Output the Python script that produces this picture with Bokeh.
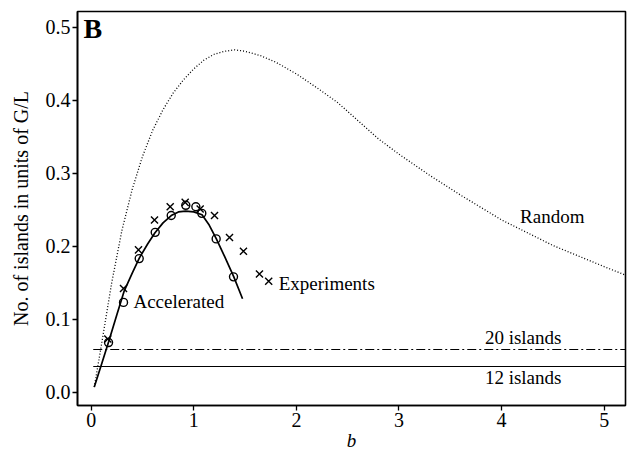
from bokeh.plotting import figure
from bokeh.models import Label, FixedTicker, PrintfTickFormatter, Range1d
from bokeh.embed import file_html
from bokeh.resources import INLINE

# ---- data ----
random_b = [0.03, 0.1, 0.2, 0.3, 0.4, 0.5, 0.6, 0.7, 0.8, 0.9, 1.0, 1.1, 1.2, 1.3,
            1.4, 1.5, 1.65, 1.8, 2.0, 2.2, 2.4, 2.6, 2.8, 3.0, 3.3, 3.6, 4.0, 4.5,
            5.0, 5.25]
random_n = [0.007, 0.065, 0.150, 0.222, 0.278, 0.323, 0.359, 0.387, 0.410, 0.428,
            0.443, 0.455, 0.463, 0.467, 0.469, 0.467, 0.461, 0.452, 0.436, 0.417,
            0.397, 0.372, 0.347, 0.326, 0.297, 0.270, 0.236, 0.201, 0.172, 0.158]

acc_fit_b = [0.03, 0.1, 0.17, 0.25, 0.32, 0.4, 0.47, 0.55, 0.62, 0.7, 0.78, 0.85,
             0.92, 1.0, 1.08, 1.15, 1.22, 1.3, 1.39, 1.475]
acc_fit_n = [0.007, 0.038, 0.069, 0.106, 0.138, 0.163, 0.184, 0.203, 0.218, 0.232,
             0.242, 0.247, 0.248, 0.247, 0.243, 0.229, 0.210, 0.186, 0.158, 0.128]

acc_pts_b = [0.169, 0.315, 0.468, 0.624, 0.78, 0.922, 1.02, 1.078, 1.218, 1.387]
acc_pts_n = [0.068, 0.123, 0.183, 0.219, 0.242, 0.256, 0.254, 0.245, 0.210, 0.158]

exp_b = [0.162, 0.315, 0.461, 0.617, 0.77, 0.916, 1.062, 1.202, 1.348, 1.484, 1.64, 1.73]
exp_n = [0.073, 0.142, 0.195, 0.236, 0.254, 0.260, 0.251, 0.242, 0.212, 0.193, 0.162, 0.152]

island_levels = [0.0585, 0.0352]
island_labels = ["20 islands", "12 islands"]

x_ticks = [0, 1, 2, 3, 4, 5]
y_ticks = [0.0, 0.1, 0.2, 0.3, 0.4, 0.5]

FONT = "Liberation Serif"

p = figure(width=631, height=455, output_backend="svg", toolbar_location=None,
           x_range=Range1d(-0.1335, 5.2076), y_range=Range1d(-0.0182, 0.5215),
           min_border_left=77, min_border_right=6, min_border_top=11,
           min_border_bottom=50)
p.background_fill_color = "white"
p.border_fill_color = "white"
p.grid.visible = False
p.outline_line_color = "black"
p.outline_line_width = 1.6

for ax in (p.xaxis[0], p.yaxis[0]):
    ax.axis_line_width = 1.6
    ax.major_tick_line_width = 1.3
    ax.major_tick_in = 0
    ax.major_tick_out = 5
    ax.minor_tick_line_color = None
    ax.major_label_text_font = FONT
    ax.major_label_text_font_size = "20px"
    ax.major_label_text_color = "black"
    ax.axis_label_text_font = FONT
    ax.axis_label_text_color = "black"

p.xaxis.ticker = FixedTicker(ticks=x_ticks)
p.yaxis.ticker = FixedTicker(ticks=y_ticks)
p.yaxis.formatter = PrintfTickFormatter(format="%.1f")
p.xaxis.major_label_standoff = 2
p.yaxis.major_label_standoff = 2

p.xaxis.axis_label = "b"
p.xaxis.axis_label_text_font_style = "italic"
p.xaxis.axis_label_text_font_size = "19px"
p.xaxis.axis_label_standoff = 0

p.yaxis.axis_label = "No. of islands in units of G/L"
p.yaxis.axis_label_text_font_style = "normal"
p.yaxis.axis_label_text_font_size = "20px"
p.yaxis.axis_label_standoff = 11

# random curve (dotted)
p.line(random_b, random_n, line_color="black", line_width=1.3, line_dash="1 2")

# island levels
p.line([0.02, 5.4], [island_levels[0]] * 2, line_color="black", line_width=1.2,
       line_dash="9 3 2 3")
p.line([0.02, 5.4], [island_levels[1]] * 2, line_color="black", line_width=1.2)

# accelerated fit
p.line(acc_fit_b, acc_fit_n, line_color="black", line_width=1.7)

# points
p.scatter(acc_pts_b, acc_pts_n, marker="circle", size=8, fill_color="white",
          fill_alpha=0, line_color="black", line_width=1.4)
p.scatter(exp_b, exp_n, marker="x", size=10, line_color="black", line_width=1.4)

def lab(x, y, text, size=19, style="normal", align="left"):
    # shift compensates the baseline offset observed in the rendered labels
    dy = 0.37 * size / 730.0
    p.add_layout(Label(x=x, y=y + dy, text=text, text_font=FONT,
                       text_font_size=f"{size}px", text_font_style=style,
                       text_align=align, text_baseline="alphabetic",
                       text_color="black"))

lab(-0.075, 0.484, "B", size=28, style="bold")
lab(0.412, 0.114, "Accelerated")
lab(1.828, 0.139, "Experiments")
lab(4.18, 0.231, "Random")
lab(4.21, 0.066, island_labels[0], align="center")
lab(4.21, 0.010, island_labels[1], align="center")

open("out.html", "w").write(file_html(p, INLINE))
